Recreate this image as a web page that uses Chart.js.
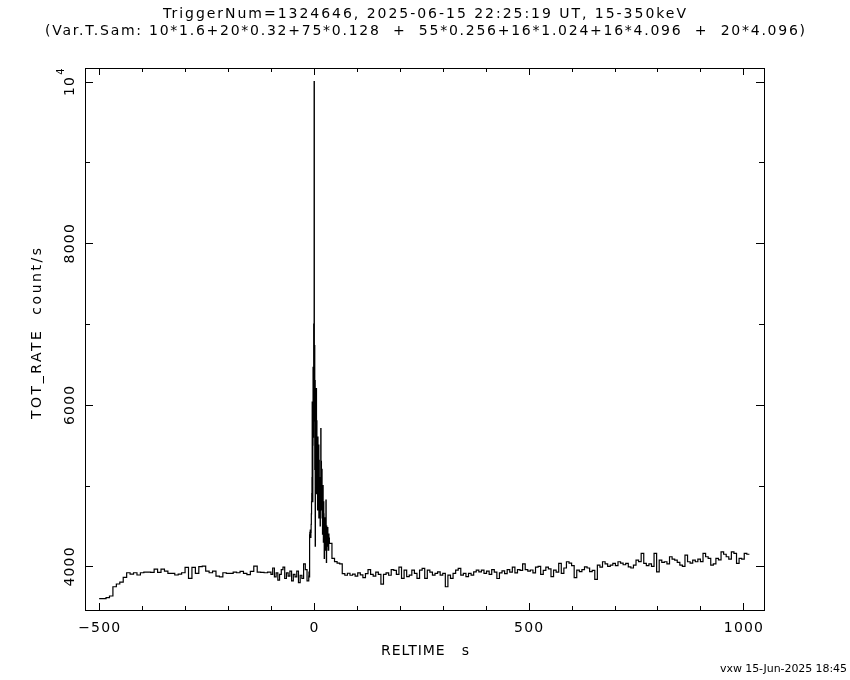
<!DOCTYPE html>
<html lang="en">
<head>
    <meta charset="UTF-8">
    <title>TOT_RATE light curve</title>
    <script src="https://cdn.jsdelivr.net/npm/chart.js"></script>
    <style>
        body {
            margin: 0;
            background: #fff;
        }
        .chart-container {
            width: 850px;
            height: 680px;
        }
    </style>
</head>
<body>

    <div class="chart-container">
        <canvas id="lcChart"></canvas>
    </div>

    <script>
        const titleLine1 = "TriggerNum=1324646, 2025-06-15 22:25:19 UT, 15-350keV";
        const titleLine2 = "(Var.T.Sam: 10*1.6+20*0.32+75*0.128  +  55*0.256+16*1.024+16*4.096  +  20*4.096)";
        const xTitle = "RELTIME   s";
        const yTitle = "TOT_RATE  count/s";
        const footer = "vxw 15-Jun-2025 18:45";

        const xMajor = [-500, 0, 500, 1000];
        const xMajorLabels = ["\u2212500", "0", "500", "1000"];
        const xMinor = [-400, -300, -200, -100, 100, 200, 300, 400, 600, 700, 800, 900];
        const yMajor = [4000, 6000, 8000, 10000];
        const yMajorLabels = ["4000", "6000", "8000", "10"];
        const yMajorExp = ["", "", "", "4"];
        const yMinor = [5000, 7000, 9000];

        // light curve, count/s, one value per time bin (bin start = segStart + i*binWidth)
        const preStart = -500, preBin = 8;
        const preRate = [3600, 3600, 3612, 3633, 3748, 3782, 3806, 3864, 3921, 3905,
                         3921, 3893, 3921, 3930, 3930, 3925, 3967, 3925, 3967, 3940,
                         3913, 3913, 3893, 3905, 3921, 3988, 3852, 3988, 3913, 3996,
                         4004, 3940, 3921, 3940, 3880, 3870, 3921, 3913, 3913, 3930,
                         3921, 3938, 3913, 3897, 3938, 4004, 3930, 3925, 3921, 3930];

        const nearStart = -100, nearBin = 4;
        const nearRate = [3900, 3980, 3870, 3920, 3830, 3900, 3960, 3990, 3850, 3920,
                          3880, 3940, 3820, 3900, 3870, 3940, 3800, 3890, 3850, 4030,
                          3960, 3820];

        const burstStart = -12, burstBin = 0.5;
        const burstRate = [3880, 3930, 3900, 3870,
                           4390, 4420, 4380, 4450, 4400, 4360, 4420, 4520,
                           4650, 4800, 4900, 5100,  6032, 5200, 4800, 5500,
                           6464, 5600, 6200, 7000,  5800, 10000, 6500, 6732,
                           5200, 6300, 4250, 5900,  6000, 5000, 5500, 6200,
                           4900, 5800, 5300, 5000,  5400, 4700, 5600, 4900,
                           5200, 4800, 5500, 4600,  5312, 4700, 5100, 4900,
                           5100, 4500, 5000, 4800,  5704, 4900, 5300, 4700,
                           4900, 5200, 4600, 5000,  4400, 4900, 5000, 4500,
                           4300, 4800, 4650, 4400,  4100, 4600, 4500, 4300,
                           4200, 4500, 4400, 4600,  4819, 4300, 4050, 4500,
                           4450, 4250, 4350, 4480,  4480, 4300, 4200, 4400,
                           4200, 4400, 4300, 4350];

        const postStart = 36, postBin = 6;
        const postRate = [4284, 4100, 4060, 4040, 4030, 3910, 3890, 3915, 3890, 3905,
                          3880, 3920, 3895, 3860, 3910, 3960, 3900, 3880, 3930, 3900,
                          3780, 3900, 3920, 3890, 3960, 3950, 3900, 3990, 3852, 3954,
                          3872, 3892, 3954, 3913, 3852, 3954, 3975, 3852, 3954, 3930,
                          3892, 3913, 3933, 3892, 3913, 3748, 3892, 3852, 3913, 3954,
                          3975, 3892, 3913, 3872, 3913, 3892, 3933, 3954, 3933, 3954,
                          3913, 3940, 3900, 3960, 3930, 3850, 3920, 3945, 3910, 3960,
                          3930, 3990, 3920, 3960, 3950, 4030, 3960, 3940, 3955, 3920,
                          3990, 4000, 3900, 3950, 3990, 3970, 3872, 3954, 3930, 4037,
                          3913, 3980, 4057, 4040, 4010, 3860, 3954, 3935, 3960, 3995,
                          3980, 3935, 3950, 3840, 4016, 3990, 4057, 4030, 4000, 4016,
                          4037, 4010, 4057, 4040, 4020, 4037, 3995, 3980, 4016, 4078,
                          4060, 4160, 4037, 4010, 4030, 4000, 4160, 3933, 4078, 4050,
                          4057, 4030, 4119, 4090, 4078, 4050, 4016, 4000, 4140, 4057,
                          4040, 4078, 4057, 4090, 4060, 4160, 4119, 4100, 4016, 4030,
                          4100, 4080, 4180, 4150, 4119, 4090, 4180, 4160, 4037, 4100,
                          4090, 4160, 4150];

        const points = [];
        const addSegment = (start, width, rates) => {
            rates.forEach((r, i) => points.push({ x: start + i * width, y: r }));
        };
        addSegment(preStart, preBin, preRate);
        addSegment(nearStart, nearBin, nearRate);
        addSegment(burstStart, burstBin, burstRate);
        addSegment(postStart, postBin, postRate);
        // close the last bin
        points.push({ x: postStart + postRate.length * postBin, y: postRate[postRate.length - 1] });

        const FONT = '"DejaVu Sans", sans-serif';

        // draw text left-aligned at x, stretched with letter spacing to a given width
        const fitText = (ctx, text, x, y, width) => {
            ctx.letterSpacing = '0px';
            const w = ctx.measureText(text).width;
            const ls = (width - w) / (text.length - 1);
            ctx.letterSpacing = ls + 'px';
            ctx.textAlign = 'left';
            ctx.fillText(text, x, y);
            ctx.letterSpacing = '0px';
        };

        const framePlugin = {
            id: 'framePlugin',
            afterDraw(chart) {
                const { ctx, chartArea: a, scales: { x, y } } = chart;
                ctx.save();
                ctx.strokeStyle = '#000';
                ctx.fillStyle = '#000';
                ctx.lineWidth = 1;
                ctx.strokeRect(a.left + 0.5, a.top + 0.5, a.right - a.left, a.bottom - a.top);

                ctx.beginPath();
                const xTick = (v, len) => {
                    const px = Math.round(x.getPixelForValue(v)) + 0.5;
                    ctx.moveTo(px, a.bottom); ctx.lineTo(px, a.bottom - len);
                    ctx.moveTo(px, a.top); ctx.lineTo(px, a.top + len);
                };
                const yTick = (v, len) => {
                    const py = Math.round(y.getPixelForValue(v)) + 0.5;
                    ctx.moveTo(a.left, py); ctx.lineTo(a.left + len, py);
                    ctx.moveTo(a.right, py); ctx.lineTo(a.right - len, py);
                };
                xMajor.forEach(v => xTick(v, 7));
                xMinor.forEach(v => xTick(v, 4));
                yMajor.forEach(v => yTick(v, 8));
                yMinor.forEach(v => yTick(v, 5));
                ctx.stroke();

                // x tick labels
                ctx.font = '14px ' + FONT;
                ctx.textBaseline = 'alphabetic';
                ctx.textAlign = 'center';
                ctx.letterSpacing = '1.2px';
                xMajor.forEach((v, i) => {
                    ctx.fillText(xMajorLabels[i], x.getPixelForValue(v) + 0.6, 632);
                });

                // y tick labels, rotated
                yMajor.forEach((v, i) => {
                    const py = y.getPixelForValue(v);
                    ctx.save();
                    ctx.translate(73.5, py);
                    ctx.rotate(-Math.PI / 2);
                    ctx.textAlign = 'left';
                    ctx.font = '14px ' + FONT;
                    ctx.letterSpacing = '1.2px';
                    const wBase = ctx.measureText(yMajorLabels[i]).width;
                    let wExp = 0;
                    if (yMajorExp[i]) {
                        ctx.font = '10px ' + FONT;
                        wExp = ctx.measureText(yMajorExp[i]).width + 1;
                    }
                    const start = -(wBase + wExp) / 2;
                    ctx.font = '14px ' + FONT;
                    ctx.fillText(yMajorLabels[i], start, 0);
                    if (yMajorExp[i]) {
                        ctx.font = '10px ' + FONT;
                        ctx.fillText(yMajorExp[i], start + wBase + 1, -10);
                    }
                    ctx.restore();
                });
                ctx.letterSpacing = '0px';

                // titles
                ctx.font = '14px ' + FONT;
                ctx.textBaseline = 'alphabetic';
                fitText(ctx, titleLine1, 163, 18, 523);
                fitText(ctx, titleLine2, 45, 35, 760);
                fitText(ctx, xTitle, 381, 655, 88);

                ctx.save();
                ctx.translate(41, 333);
                ctx.rotate(-Math.PI / 2);
                fitText(ctx, yTitle, -86, 0, 171);
                ctx.restore();

                ctx.font = '11px ' + FONT;
                fitText(ctx, footer, 720, 672, 127);
                ctx.restore();
            }
        };

        const ctx = document.getElementById('lcChart').getContext('2d');
        new Chart(ctx, {
            type: 'line',
            data: {
                datasets: [{
                    label: 'TOT_RATE',
                    data: points,
                    borderColor: '#000',
                    borderWidth: 1.2,
                    pointRadius: 0,
                    stepped: true,
                    fill: false
                }]
            },
            options: {
                responsive: true,
                maintainAspectRatio: false,
                animation: false,
                layout: {
                    padding: { left: 85, right: 86, top: 68, bottom: 70 }
                },
                plugins: {
                    legend: { display: false },
                    tooltip: { enabled: false }
                },
                scales: {
                    x: { type: 'linear', min: -533, max: 1048, display: false },
                    y: { type: 'linear', min: 3460, max: 10169, display: false }
                }
            },
            plugins: [framePlugin]
        });
    </script>
</body>
</html>
